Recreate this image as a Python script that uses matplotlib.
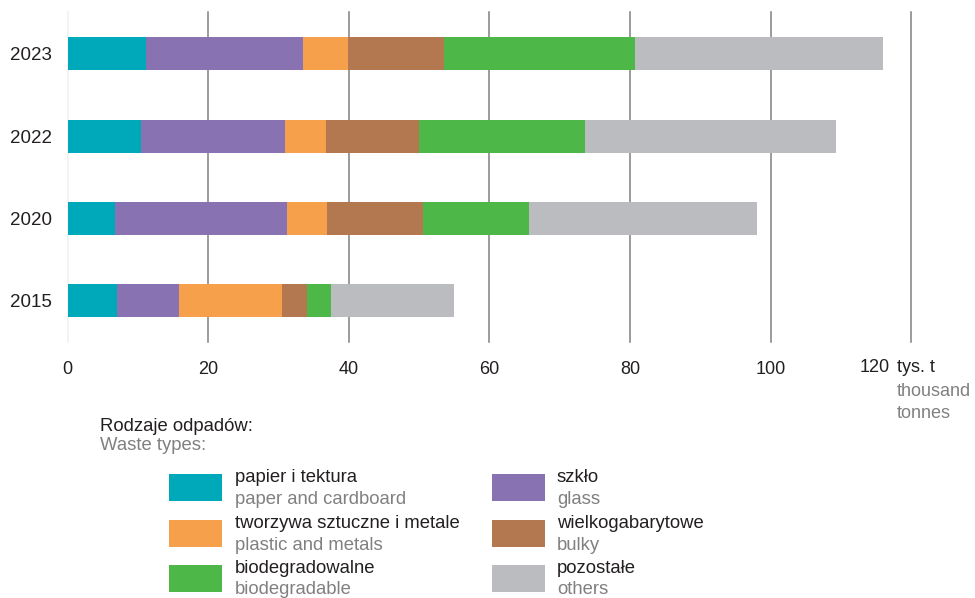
import matplotlib
matplotlib.use("Agg")
import matplotlib.pyplot as plt
from matplotlib.patches import Rectangle

plt.rcParams['font.family'] = ['Liberation Sans', 'DejaVu Sans']

years = ["2015", "2020", "2022", "2023"]
categories_pl = ["papier i tektura", "szkło", "tworzywa sztuczne i metale",
                 "wielkogabarytowe", "biodegradowalne", "pozostałe"]
categories_en = ["paper and cardboard", "glass", "plastic and metals",
                 "bulky", "biodegradable", "others"]
colors = ["#00A9BA", "#8872B2", "#F7A04B", "#B37850", "#4DB848", "#BBBCBF"]

paper = [7.0, 6.8, 10.4, 11.1]
glass = [8.9, 24.4, 20.5, 22.4]
plastic = [14.6, 5.7, 5.9, 6.4]
bulky = [3.6, 13.7, 13.2, 13.6]
biodeg = [3.4, 15.0, 23.6, 27.2]
others = [17.5, 32.4, 35.7, 35.3]
series = [paper, glass, plastic, bulky, biodeg, others]

xticks = [0, 20, 40, 60, 80, 100, 120]

W, H = 975, 598
fig = plt.figure(figsize=(W / 100, H / 100), dpi=100)
ax_l, ax_r, ax_t, ax_b = 67.5, 911.3, 12, 342
ax = fig.add_axes([ax_l / W, 1 - ax_b / H, (ax_r - ax_l) / W, (ax_b - ax_t) / H])

ypos = list(range(len(years)))
left = [0.0] * len(years)
for vals, col in zip(series, colors):
    ax.barh(ypos, vals, left=left, height=0.40, color=col, zorder=3, linewidth=0)
    left = [a + b for a, b in zip(left, vals)]

for x in xticks:
    ax.axvline(x, color="#f0f0f0" if x == 0 else "#808080", lw=1.1, zorder=1, clip_on=False)

ax.set_xlim(0, 120)
ax.set_ylim(-0.502, 3.507)
for s in ax.spines.values():
    s.set_visible(False)
ax.set_yticks(ypos)
ax.set_yticklabels(years, fontsize=13.5, color="#231F20")
ax.tick_params(axis='y', length=0, pad=11)
ax.set_xticks(xticks[:-1])
ax.set_xticklabels([str(x) for x in xticks[:-1]], fontsize=13, color="#231F20")
ax.tick_params(axis='x', length=0, pad=13.5)

def px(x, y):
    return x / W, 1 - y / H

fig.text(*px(890, 368), str(xticks[-1]), fontsize=13, color="#231F20", ha="right", va="center")
fig.text(*px(897, 368), "tys. t", fontsize=13, color="#231F20", ha="left", va="center")
fig.text(*px(897, 392), "thousand", fontsize=13, color="#808080", ha="left", va="center")
fig.text(*px(897, 413), "tonnes", fontsize=13, color="#808080", ha="left", va="center")

fig.text(*px(100, 431), "Rodzaje odpadów:", fontsize=13.3, color="#231F20", ha="left", va="baseline")
fig.text(*px(100, 449.5), "Waste types:", fontsize=13.3, color="#808080", ha="left", va="baseline")

# legend
order = [0, 2, 4, 1, 3, 5]
rows_y = [474, 520, 565]
cols_x = [(169, 235), (492, 557)]
for k, idx in enumerate(order):
    c = k // 3
    r = k % 3
    x0, tx = cols_x[c]
    y0 = rows_y[r]
    fx, fy = px(x0, y0 + 27)
    fig.add_artist(Rectangle((fx, fy), 53 / W, 27 / H, transform=fig.transFigure,
                             facecolor=colors[idx], edgecolor="none"))
    fig.text(*px(tx, y0 + 8), categories_pl[idx], fontsize=13.3, color="#231F20",
             ha="left", va="baseline")
    fig.text(*px(tx, y0 + 29.5), categories_en[idx], fontsize=13.3, color="#808080",
             ha="left", va="baseline")

fig.savefig("out.png", dpi=100)
